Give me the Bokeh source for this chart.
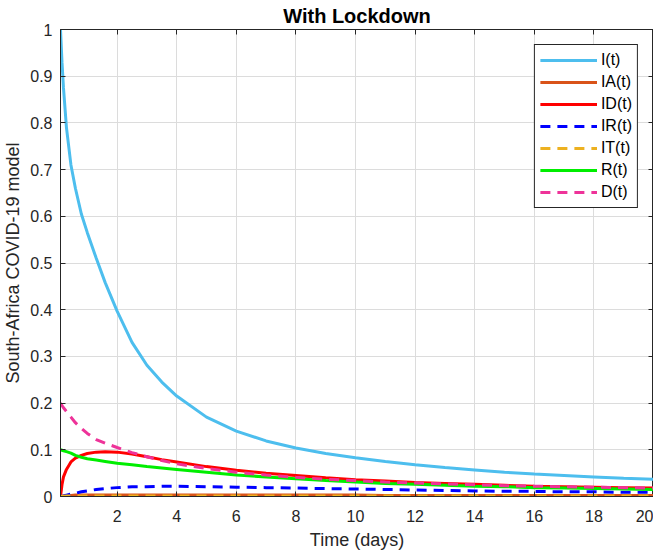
from bokeh.plotting import figure
from bokeh.models import Range1d, FixedTicker, LinearAxis, Legend, LegendItem
from bokeh.embed import file_html
from bokeh.resources import INLINE

# ---- data ----
t = [0.1, 0.15, 0.2, 0.3, 0.45, 0.6, 0.8, 1.0, 1.3, 1.6, 2.0, 2.5, 3.0, 3.5, 4.0, 5.0,
     6.0, 7.0, 8.0, 9.0, 10.0, 11.0, 12.0, 13.0, 14.0, 15.0, 16.0, 17.0, 18.0, 19.0, 20.0]

I_t = [1.0, 0.93, 0.875, 0.79, 0.71, 0.66, 0.605, 0.565, 0.51, 0.458, 0.397, 0.33, 0.281, 0.245, 0.215, 0.17,
       0.14, 0.119, 0.104, 0.092, 0.083, 0.075, 0.068, 0.062, 0.057, 0.052, 0.048, 0.045, 0.042, 0.039, 0.037]

IA_t = [0.0, 0.0005, 0.001, 0.002, 0.002, 0.003, 0.003, 0.003, 0.003, 0.003, 0.003, 0.003, 0.003, 0.003, 0.003, 0.003,
        0.003, 0.003, 0.003, 0.003, 0.003, 0.002, 0.002, 0.002, 0.002, 0.002, 0.002, 0.002, 0.002, 0.002, 0.002]

ID_t = [0.0, 0.025, 0.042, 0.058, 0.074, 0.082, 0.088, 0.092, 0.095, 0.096, 0.095, 0.091, 0.085, 0.079, 0.074, 0.064,
        0.056, 0.050, 0.045, 0.040, 0.036, 0.033, 0.030, 0.028, 0.026, 0.024, 0.022, 0.021, 0.020, 0.019, 0.018]

IR_t = [0.0, 0.0005, 0.001, 0.003, 0.005, 0.007, 0.010, 0.012, 0.015, 0.017, 0.019, 0.021, 0.021, 0.022, 0.022, 0.021,
        0.020, 0.019, 0.018, 0.017, 0.016, 0.015, 0.014, 0.013, 0.012, 0.011, 0.011, 0.010, 0.010, 0.009, 0.009]

IT_t = [0.0, 0.0003, 0.0005, 0.001, 0.001, 0.001, 0.001, 0.001, 0.001, 0.001, 0.001, 0.001, 0.001, 0.001, 0.001, 0.001,
        0.001, 0.001, 0.001, 0.001, 0.001, 0.001, 0.001, 0.001, 0.001, 0.001, 0.001, 0.001, 0.001, 0.001, 0.001]

R_t = [0.1, 0.099, 0.098, 0.096, 0.093, 0.088, 0.084, 0.081, 0.078, 0.075, 0.071, 0.068, 0.064, 0.061, 0.058, 0.052,
       0.046, 0.042, 0.038, 0.034, 0.031, 0.028, 0.026, 0.024, 0.022, 0.021, 0.019, 0.018, 0.017, 0.016, 0.015]

D_t = [0.2, 0.195, 0.19, 0.182, 0.17, 0.158, 0.146, 0.135, 0.122, 0.114, 0.105, 0.094, 0.085, 0.077, 0.070, 0.060,
       0.052, 0.046, 0.041, 0.037, 0.034, 0.031, 0.029, 0.027, 0.025, 0.023, 0.022, 0.021, 0.020, 0.019, 0.018]

series_names = ["I(t)", "IA(t)", "ID(t)", "IR(t)", "IT(t)", "R(t)", "D(t)"]
series_values = [I_t, IA_t, ID_t, IR_t, IT_t, R_t, D_t]

x_ticks = [2, 4, 6, 8, 10, 12, 14, 16, 18, 20]
x_tick_labels = ["2", "4", "6", "8", "10", "12", "14", "16", "18", "20"]
y_ticks = [0.0, 0.1, 0.2, 0.3, 0.4, 0.5, 0.6, 0.7, 0.8, 0.9, 1.0]
y_tick_labels = ["0", "0.1", "0.2", "0.3", "0.4", "0.5", "0.6", "0.7", "0.8", "0.9", "1"]

# ---- styles ----
colors = ["#4DBEEE", "#D95319", "#FF0000", "#0000FF", "#EDB120", "#00EE00", "#EE3399"]
dashes = ["solid", "solid", "solid", "10 7", "10 7", "solid", "10 7"]
FONT = "Liberation Sans"
AX = "#262626"

p = figure(width=653, height=552, output_backend="svg", toolbar_location=None,
           x_range=Range1d(0.1, 20), y_range=Range1d(0, 1),
           min_border_left=0, min_border_right=0, min_border_top=0, min_border_bottom=0)

p.title.text = "With Lockdown"
p.title.align = "center"
p.title.text_font = FONT
p.title.text_font_size = "20px"
p.title.text_font_style = "bold"
p.title.text_color = "#000000"
p.title.standoff = 5

p.outline_line_color = AX
p.outline_line_alpha = 1.0
p.outline_line_width = 1

p.xaxis.ticker = FixedTicker(ticks=x_ticks)
p.yaxis.ticker = FixedTicker(ticks=y_ticks)
p.xaxis.major_label_overrides = {float(v): s for v, s in zip(x_ticks, x_tick_labels)}
p.yaxis.major_label_overrides = {v: s for v, s in zip(y_ticks, y_tick_labels)}
p.xaxis.axis_label = "Time (days)"
p.yaxis.axis_label = "South-Africa COVID-19 model"

for ax in (p.xaxis[0], p.yaxis[0]):
    ax.axis_line_color = AX
    ax.major_tick_line_color = AX
    ax.major_tick_in = 5
    ax.major_tick_out = 0
    ax.minor_tick_line_color = None
    ax.major_label_text_font = FONT
    ax.major_label_text_font_size = "16px"
    ax.major_label_text_color = AX
    ax.axis_label_text_font = FONT
    ax.axis_label_text_font_size = "18px"
    ax.axis_label_text_font_style = "normal"
    ax.axis_label_text_color = AX

p.xaxis.major_label_text_line_height = 1.0
p.xaxis.axis_label_text_line_height = 1.0
p.xaxis.major_label_standoff = 13
p.xaxis.axis_label_standoff = 5
p.yaxis.major_label_standoff = 8
p.yaxis.axis_label_standoff = 4

# top / right axes for the inward box ticks (no labels)
top = LinearAxis(ticker=FixedTicker(ticks=x_ticks), major_label_text_color=None,
                 major_label_text_font_size="1px",
                 major_label_standoff=0, major_tick_in=5, major_tick_out=0,
                 minor_tick_line_color=None, axis_line_color=AX, major_tick_line_color=AX)
right = LinearAxis(ticker=FixedTicker(ticks=y_ticks), major_label_text_color=None,
                   major_label_text_font_size="1px",
                   major_label_standoff=0, major_tick_in=5, major_tick_out=0,
                   minor_tick_line_color=None, axis_line_color=AX, major_tick_line_color=AX)
p.add_layout(top, "above")
p.add_layout(right, "right")

p.xgrid.ticker = FixedTicker(ticks=x_ticks)
p.ygrid.ticker = FixedTicker(ticks=y_ticks)
p.grid.grid_line_color = "#DCDCDC"
p.grid.grid_line_width = 1

items = []
for name, vals, c, d in zip(series_names, series_values, colors, dashes):
    r = p.line(t, vals, line_color=c, line_width=3, line_dash=d)
    items.append(LegendItem(label=name, renderers=[r]))

legend = Legend(items=items, location="top_right", margin=15,
                padding=5, spacing=2, glyph_width=57, glyph_height=20,
                label_height=20, label_standoff=4,
                label_text_font=FONT, label_text_font_size="16px", label_text_color="#000000",
                border_line_color=AX, border_line_alpha=1.0, border_line_width=1,
                background_fill_color="white", background_fill_alpha=1.0)
p.add_layout(legend, "center")

open("out.html", "w").write(file_html(p, INLINE))
